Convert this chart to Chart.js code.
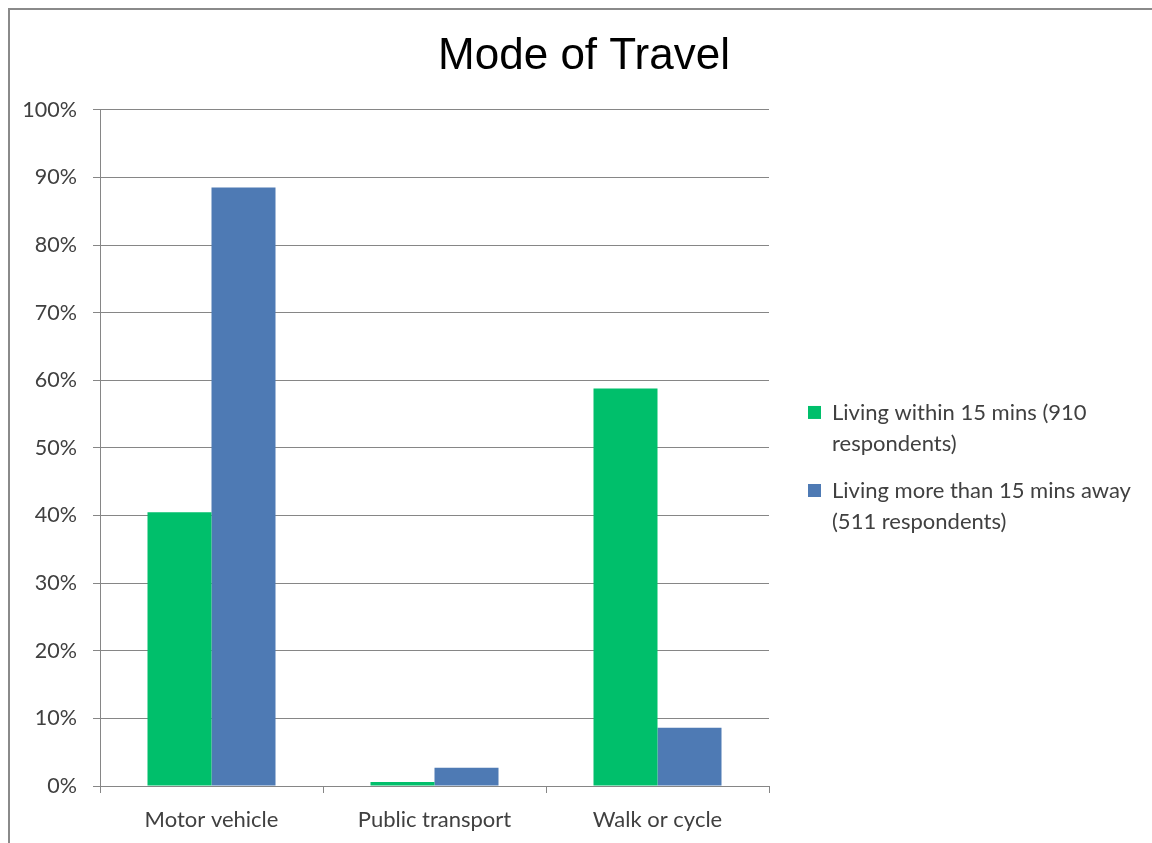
<!DOCTYPE html>
<html>
<head>
<meta charset="utf-8">
<script src="https://cdn.jsdelivr.net/npm/chart.js@4.4.1/dist/chart.umd.min.js"></script>
<style>
  html, body { margin: 0; padding: 0; background: #fff; overflow: hidden; }
  #frame {
    position: absolute; left: 8px; top: 8px; width: 1200px; height: 900px;
    border-top: 2px solid #8a8a8a; border-left: 2px solid #8a8a8a;
  }
  #wrap { position: absolute; left: 0; top: 0; width: 1152px; height: 843px; }
</style>
</head>
<body>
<div id="frame"></div>
<div id="wrap"><canvas id="travelChart"></canvas></div>
<script>
// mode of travel, % of respondents
const categories = ["Motor vehicle", "Public transport", "Walk or cycle"];
const within15 = [40.5, 0.6, 58.8];
const beyond15 = [88.5, 2.7, 8.6];
const seriesNames = [
  ["Living within 15 mins (910", "respondents)"],
  ["Living more than 15 mins away", "(511 respondents)"]
];
const yTicks = [0, 10, 20, 30, 40, 50, 60, 70, 80, 90, 100];

const GRID = "#868686";
const TEXT = "#404040";
const LEGEND_W = 383;   // space kept right of the plot
const LEGEND_GAP = 23;  // gap between plot and legend
const LEGEND_DROP = 50; // legend sits a bit below centre

// fixed legend width + small offset from the plot
const legendSpace = {
  id: "legendSpace",
  beforeInit(chart) {
    const fit = chart.legend.fit;
    chart.legend.fit = function () {
      fit.call(this);
      this.width = LEGEND_W;
    };
  },
  afterLayout(chart) {
    const lg = chart.legend;
    lg.left += LEGEND_GAP;
    lg.top += LEGEND_DROP;
    lg.bottom += LEGEND_DROP;
  }
};

new Chart(document.getElementById("travelChart"), {
  type: "bar",
  data: {
    labels: categories,
    datasets: [
      { label: seriesNames[0].join(" "), data: within15, backgroundColor: "#00BF6B" },
      { label: seriesNames[1].join(" "), data: beyond15, backgroundColor: "#4E7AB4" }
    ]
  },
  plugins: [legendSpace],
  options: {
    responsive: true,
    maintainAspectRatio: false,
    animation: false,
    datasets: { bar: { categoryPercentage: 0.574, barPercentage: 1.0 } },
    layout: { padding: { left: 16, right: 0, top: 0, bottom: 0 } },
    plugins: {
      tooltip: { enabled: false },
      title: {
        display: true,
        text: "Mode of Travel",
        color: "#000",
        font: { family: "'Liberation Sans', Arial, sans-serif", size: 44, weight: "normal" },
        padding: { top: 30, bottom: 27 }
      },
      legend: {
        position: "right",
        align: "center",
        labels: {
          boxWidth: 13,
          boxHeight: 13,
          padding: 16,
          color: TEXT,
          font: { family: "Lato, sans-serif", size: 22, lineHeight: 1.41 },
          generateLabels: (chart) => chart.data.datasets.map((ds, i) => ({
            text: seriesNames[i],
            fillStyle: ds.backgroundColor,
            strokeStyle: ds.backgroundColor,
            lineWidth: 0,
            fontColor: TEXT,
            datasetIndex: i
          }))
        }
      }
    },
    scales: {
      x: {
        afterFit: (scale) => { scale.height = 57; },
        grid: { drawOnChartArea: false, drawTicks: true, tickLength: 7, color: GRID, offset: true },
        border: { color: GRID, width: 1 },
        ticks: { color: TEXT, padding: 14, font: { family: "Lato, sans-serif", size: 22 } }
      },
      y: {
        min: 0,
        max: 100,
        afterFit: (scale) => { scale.width = 84; },
        afterBuildTicks: (scale) => { scale.ticks = yTicks.map(v => ({ value: v })); },
        grid: { color: GRID, tickLength: 7 },
        border: { color: GRID, width: 1 },
        ticks: {
          color: TEXT,
          padding: 16,
          font: { family: "Lato, sans-serif", size: 21.5 },
          callback: (v) => v + "%"
        }
      }
    }
  }
});
</script>
</body>
</html>
